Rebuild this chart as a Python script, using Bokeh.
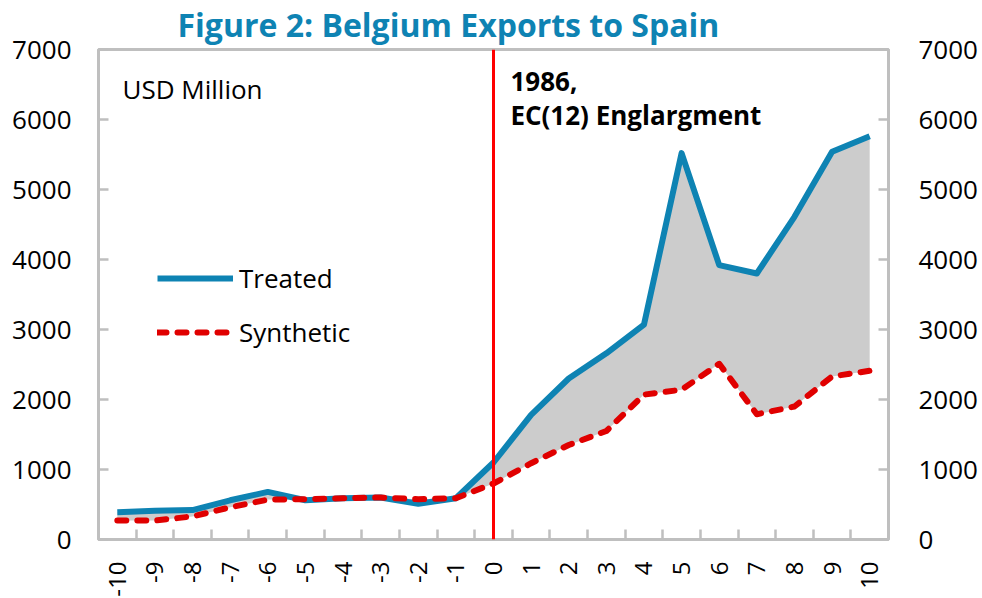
import math
from bokeh.plotting import figure
from bokeh.models import (Range1d, FixedTicker, LinearAxis, Span, Label, Legend,
                          LegendItem, ColumnDataSource, Title)
from bokeh.embed import file_html
from bokeh.resources import INLINE

# ---- data ----
periods = list(range(-10, 11))
x_labels = [str(v) for v in periods]
treated = [390, 410, 420, 560, 680, 560, 590, 600, 510, 590, 1100,
           1780, 2300, 2660, 3070, 5520, 3920, 3800, 4610, 5540, 5760]
synthetic = [270, 270, 330, 460, 570, 575, 590, 600, 575, 590, 800,
             1090, 1350, 1550, 2070, 2140, 2510, 1790, 1900, 2330, 2410]
y_ticks = [0, 1000, 2000, 3000, 4000, 5000, 6000, 7000]
y_labels = [str(v) for v in y_ticks]
treatment_period = 0

BLUE = "#0E83B3"
RED_D = "#E00000"
GRAY = "#BFBFBF"
FONT = "Open Sans"

src = ColumnDataSource(dict(x=periods, treated=treated, synthetic=synthetic))

title = Title(text="Figure 2: Belgium Exports to Spain", align="left",
              vertical_align="top",
              offset=79, standoff=4, text_font=FONT, text_font_size="32px",
              text_font_style="bold", text_color=BLUE)

p = figure(output_backend="svg", toolbar_location=None,
           frame_width=790, frame_height=490,
           min_border_left=98, min_border_right=94,
           min_border_top=48, min_border_bottom=60,
           x_range=Range1d(-10.5, 10.5), y_range=Range1d(0, 7000),
           y_axis_location=None, x_axis_location=None, title=title)
p.xgrid.visible = False
p.ygrid.visible = False
p.outline_line_color = GRAY
p.outline_line_width = 3
p.background_fill_color = "white"
p.border_fill_color = "white"

# x axis
xax = LinearAxis(ticker=FixedTicker(ticks=periods,
                                    minor_ticks=[v + 0.5 for v in periods[:-1]]))
xax.major_label_overrides = {v: lab for v, lab in zip(periods, x_labels)}
xax.major_label_orientation = math.pi / 2
xax.major_tick_line_color = None
xax.minor_tick_in = 10
xax.minor_tick_out = 0
xax.minor_tick_line_color = GRAY
xax.minor_tick_line_width = 2.5
xax.axis_line_color = GRAY
xax.axis_line_width = 3
xax.major_label_standoff = 16
xax.major_label_text_font = FONT
xax.major_label_text_font_size = "24px"
xax.major_label_text_color = "black"
p.add_layout(xax, "below")

for side, standoff in (("left", 27), ("right", 30)):
    ax = LinearAxis(ticker=FixedTicker(ticks=y_ticks, minor_ticks=[]))
    ax.major_label_overrides = {v: lab for v, lab in zip(y_ticks, y_labels)}
    ax.major_tick_in = 10
    ax.major_tick_out = 0
    ax.major_tick_line_color = GRAY
    ax.major_tick_line_width = 2.5
    ax.minor_tick_line_color = None
    ax.axis_line_color = GRAY
    ax.axis_line_width = 3
    ax.major_label_standoff = standoff
    ax.major_label_text_font = FONT
    ax.major_label_text_font_size = "26px"
    ax.major_label_text_color = "black"
    p.add_layout(ax, side)

# shaded gap
p.varea(x="x", y1="synthetic", y2="treated", source=src,
        fill_color="#CCCCCC", fill_alpha=1.0)

r_t = p.line(x="x", y="treated", source=src, line_color=BLUE, line_width=6,
             line_join="round")
r_s = p.line(x="x", y="synthetic", source=src, line_color=RED_D, line_width=6,
             line_dash="9 11", line_cap="round", line_join="round")

p.add_layout(Span(location=treatment_period, dimension="height",
                  line_color="#FF0000", line_width=3))

legend = Legend(items=[LegendItem(label="Treated", renderers=[r_t]),
                       LegendItem(label="Synthetic", renderers=[r_s])],
                location=(59, 187), orientation="vertical",
                glyph_width=76, glyph_height=40, label_height=40,
                spacing=14, padding=0, margin=0, label_standoff=6,
                border_line_color=None, background_fill_alpha=0,
                label_text_font=FONT, label_text_font_size="26px",
                label_text_color="black")
p.add_layout(legend)

p.add_layout(Label(x=-9.862, y=6440, text="USD Million", text_font=FONT,
                   text_font_size="26px", text_color="black",
                   text_baseline="alphabetic"))
p.add_layout(Label(x=0.45, y=6540, text="1986,", text_font=FONT,
                   text_font_size="26px", text_font_style="bold",
                   text_color="black", text_baseline="alphabetic"))
p.add_layout(Label(x=0.45, y=6060, text="EC(12) Englargment", text_font=FONT,
                   text_font_size="26px", text_font_style="bold",
                   text_color="black", text_baseline="alphabetic"))

open("out.html", "w").write(file_html(p, INLINE))
